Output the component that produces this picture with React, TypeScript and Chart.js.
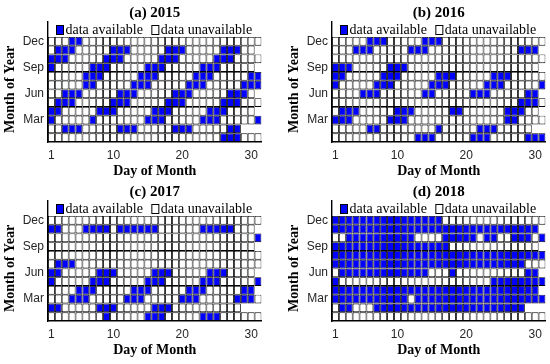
import React, { useEffect, useRef } from "react";
import { Chart, registerables } from "chart.js";

Chart.register(...registerables);

// ---------------- data ----------------
const panelTitles = ["(a) 2015", "(b) 2016", "(c) 2017", "(d) 2018"];
const legendLabels = ["data available", "data unavailable"];
const monthTickValues = [3, 6, 9, 12];
const monthTickLabels = ["Mar", "Jun", "Sep", "Dec"];
const dayTickValues = [1, 10, 20, 30];
const xAxisTitle = "Day of Month";
const yAxisTitle = "Month of Year";

const daysInMonth2015 = [31, 28, 31, 30, 31, 30, 31, 31, 30, 31, 30, 31];
const daysInMonth2016 = [31, 29, 31, 30, 31, 30, 31, 31, 30, 31, 30, 31];
const daysInMonth2017 = [31, 28, 31, 30, 31, 30, 31, 31, 30, 31, 30, 31];
const daysInMonth2018 = [31, 28, 31, 30, 31, 30, 31, 31, 30, 31, 30, 31];

// available days per month, index 0 = Jan ... 11 = Dec
const avail2015 = [
  [26, 27, 28],
  [3, 4, 5, 11, 12, 13, 19, 20, 21, 27, 28],
  [1, 7, 15, 16, 17, 23, 24, 25, 31],
  [1, 2, 8, 9, 10, 16, 17, 18, 24, 25, 26],
  [2, 3, 4, 10, 11, 12, 18, 19, 20, 26, 27, 28],
  [3, 4, 5, 11, 12, 13, 19, 20, 21, 27, 28, 29],
  [6, 7, 13, 14, 15, 21, 22, 23, 29, 30, 31],
  [6, 7, 8, 14, 15, 16, 22, 23, 24, 30, 31],
  [1, 7, 8, 9, 15, 16, 17, 23, 24, 25],
  [1, 2, 3, 9, 10, 11, 17, 18, 19, 25, 26, 27],
  [2, 3, 4, 10, 11, 12, 18, 19, 20, 26, 27, 28],
  [4, 5],
];

const avail2016 = [
  [13, 14, 15, 21, 22, 23, 29, 30, 31],
  [6, 7, 16, 22, 23, 24],
  [1, 2, 3, 9, 10, 11, 26, 27],
  [2, 3, 4, 10, 11, 12, 18, 19, 26, 27, 28],
  [28, 29, 30],
  [5, 6, 7, 14, 15, 21, 22, 23, 29, 30],
  [1, 7, 8, 9, 15, 16, 17, 23, 24, 25, 31],
  [1, 2, 8, 9, 10, 16, 17, 18, 24, 25, 26],
  [1, 2, 3, 9, 10, 11],
  [],
  [4, 5, 6, 12, 13, 14, 28, 29, 30],
  [6, 7, 8, 14, 15, 16],
];

const avail2017 = [
  [9, 15, 16, 17, 23, 24, 25],
  [1, 2, 8, 9, 10, 16, 17, 18],
  [4, 5, 6, 12, 13, 14, 20, 21, 22, 28, 29, 30],
  [5, 6, 7, 13, 14, 15, 21, 22, 23, 29, 30],
  [1, 7, 8, 9, 15, 16, 17, 23, 24, 25, 31],
  [1, 2, 8, 9, 10, 16, 17, 18, 24, 25, 26],
  [2, 3, 4],
  [],
  [],
  [31],
  [1, 2, 6, 7, 8, 9, 11, 12, 13, 14, 15, 16, 23, 24, 25, 26, 27],
  [],
];

const avail2018 = [
  [],
  [2, 3, 7, 8, 9, 10, 11, 12, 13, 14, 15, 16, 17, 18, 19, 20, 21, 22, 23, 24, 25, 26, 27, 28],
  [1, 2, 3, 4, 5, 6, 7, 8, 9, 10, 11, 13, 14, 15, 16, 17, 18, 19, 20, 21, 22, 23, 24, 25, 26, 27, 28, 29, 30, 31],
  [1, 2, 3, 4, 5, 6, 7, 8, 9, 10, 11, 12, 13, 14, 15, 16, 17, 18, 19, 20, 21, 22, 23, 24, 25, 26, 27, 28, 29, 30],
  [1, 24, 25, 26, 27, 28, 29, 30, 31],
  [2, 3, 4, 5, 6, 7, 8, 9, 10, 11, 12, 13, 14, 18, 29, 30],
  [1, 2, 3, 4, 5, 6, 7, 8, 9, 10, 11, 12, 13, 14, 15, 16, 17, 18, 19, 20, 21, 22, 23, 24, 25, 26, 27, 28],
  [1, 2, 3, 4, 5, 6, 7, 8, 9, 10, 11, 12, 13, 14, 15, 16, 17, 18, 19, 20, 21, 22, 23, 24, 25, 26, 27, 28, 29, 30, 31],
  [1, 2, 3, 4, 5, 6, 7, 8, 9, 10, 11, 12, 13, 14, 15, 16, 17],
  [3, 4, 5, 6, 7, 8, 9, 10, 11, 12, 17, 18, 19, 20, 21, 23, 24, 27, 28, 29, 31],
  [1, 2, 3, 4, 5, 6, 7, 8, 9, 10, 11, 12, 13, 14, 15, 16, 17, 18, 19, 20, 21, 22, 23, 24, 25, 26, 27, 28, 29, 30],
  [1, 2, 3, 4, 5, 6, 7, 8, 9, 10, 11, 12, 13, 14, 15, 16],
];

const panelAvail = [avail2015, avail2016, avail2017, avail2018];
const panelDays = [daysInMonth2015, daysInMonth2016, daysInMonth2017, daysInMonth2018];

// ---------------- layout ----------------
const panelBoxes = [
  { left: 0, top: 0, width: 284, padRight: 22.5 },
  { left: 284, top: 0, width: 266, padRight: 4.5 },
  { left: 0, top: 179, width: 284, padRight: 22.5 },
  { left: 284, top: 179, width: 266, padRight: 4.5 },
];
const CANVAS_H = 182;
const BLUE = "#0000ff";
const TICK_COLOR = "#262626";
const SERIF = '"Liberation Serif", "Times New Roman", serif';
const SANS = '"Liberation Sans", Arial, sans-serif';

Chart.defaults.font.family = SANS;

const decorPlugin = {
  id: "panelDecor",
  afterDraw(chart: any) {
    const { ctx, chartArea, scales } = chart;
    const y = scales.y;
    // y-axis title, centred on the month rows
    ctx.save();
    ctx.font = `bold 14px ${SERIF}`;
    ctx.fillStyle = "#000";
    ctx.textAlign = "center";
    ctx.textBaseline = "middle";
    const cy = (y.getPixelForValue(0.5) + y.getPixelForValue(12.5)) / 2;
    ctx.translate(10, cy);
    ctx.rotate(-Math.PI / 2);
    ctx.fillText(yAxisTitle, 0, 0);
    ctx.restore();

    // legend inside the axes, top-left
    ctx.save();
    ctx.font = `14px ${SERIF}`;
    ctx.textBaseline = "middle";
    ctx.textAlign = "left";
    let x = chartArea.left + 8.5;
    const boxTop = chartArea.top + 3.5;
    const textY = chartArea.top + 8.5;
    chart.data.datasets.forEach((ds: any) => {
      ctx.fillStyle = ds.backgroundColor;
      ctx.fillRect(x, boxTop, 7, 9);
      ctx.strokeStyle = "#000";
      ctx.lineWidth = 1;
      ctx.strokeRect(x, boxTop, 7, 9);
      ctx.fillStyle = "#000";
      ctx.fillText(ds.label, x + 9, textY);
      x += 9 + ctx.measureText(ds.label).width + 9;
    });
    ctx.restore();
  },
};

function makeConfig(i: number): any {
  const avail = panelAvail[i];
  const dim = panelDays[i];
  const availCells: any[] = [];
  const unavailCells: any[] = [];
  dim.forEach((n, m) => {
    for (let d = 1; d <= n; d++) {
      const cell = { x: d, y: [m + 0.5, m + 1.5] };
      if (avail[m].includes(d)) availCells.push(cell);
      else unavailCells.push(cell);
    }
  });
  const common = {
    borderColor: "#000",
    borderWidth: 0.9,
    borderSkipped: false,
    grouped: false,
    barPercentage: 1,
    categoryPercentage: 1,
    inflateAmount: 0,
  };
  return {
    type: "bar",
    data: {
      datasets: [
        { label: legendLabels[0], data: availCells, backgroundColor: BLUE, ...common },
        { label: legendLabels[1], data: unavailCells, backgroundColor: "#ffffff", ...common },
      ],
    },
    options: {
      animation: false,
      responsive: false,
      events: [],
      layout: { padding: { left: 0, right: panelBoxes[i].padRight, top: 0, bottom: 0 } },
      plugins: {
        legend: { display: false },
        tooltip: { enabled: false },
        title: {
          display: true,
          text: panelTitles[i],
          fullSize: false,
          color: "#000",
          font: { family: SERIF, size: 15, weight: "bold" },
          padding: { top: 4, bottom: 0 },
        },
      },
      scales: {
        x: {
          type: "linear",
          min: 0.5,
          max: 31.5,
          offset: false,
          grid: { display: false, drawTicks: false },
          border: { display: true, color: "#000", width: 1.4 },
          afterBuildTicks: (s: any) => {
            s.ticks = dayTickValues.map((v) => ({ value: v }));
          },
          afterFit: (s: any) => {
            s.height = 40;
          },
          ticks: {
            color: TICK_COLOR,
            font: { family: SANS, size: 12 },
            padding: 6,
            maxRotation: 0,
            autoSkip: false,
            callback: (v: any) => String(v),
          },
          title: {
            display: true,
            text: xAxisTitle,
            color: "#000",
            font: { family: SERIF, size: 14, weight: "bold" },
            padding: { top: 0, bottom: 2 },
          },
        },
        y: {
          type: "linear",
          min: 0.5,
          max: 14.2,
          grid: { display: false, drawTicks: false },
          border: { display: true, color: "#000", width: 1.4 },
          afterBuildTicks: (s: any) => {
            s.ticks = monthTickValues.map((v) => ({ value: v }));
          },
          afterFit: (s: any) => {
            s.width = 48;
          },
          ticks: {
            color: TICK_COLOR,
            font: { family: SANS, size: 12 },
            padding: 4,
            autoSkip: false,
            callback: (v: any) => monthTickLabels[monthTickValues.indexOf(v)] ?? "",
          },
        },
      },
    },
    plugins: [decorPlugin],
  };
}

function Panel({ index }: { index: number }) {
  const ref = useRef<HTMLCanvasElement>(null);
  const box = panelBoxes[index];
  useEffect(() => {
    const chart = new Chart(ref.current as HTMLCanvasElement, makeConfig(index));
    return () => chart.destroy();
  }, [index]);
  return (
    <canvas
      ref={ref}
      width={box.width}
      height={CANVAS_H}
      style={{ position: "absolute", left: box.left, top: box.top, width: box.width, height: CANVAS_H }}
    />
  );
}

export default function App() {
  return (
    <div
      style={{
        position: "fixed",
        left: 0,
        top: 0,
        width: 550,
        height: 364,
        overflow: "hidden",
        background: "#fff",
      }}
    >
      {panelTitles.map((_, i) => (
        <Panel key={i} index={i} />
      ))}
    </div>
  );
}
